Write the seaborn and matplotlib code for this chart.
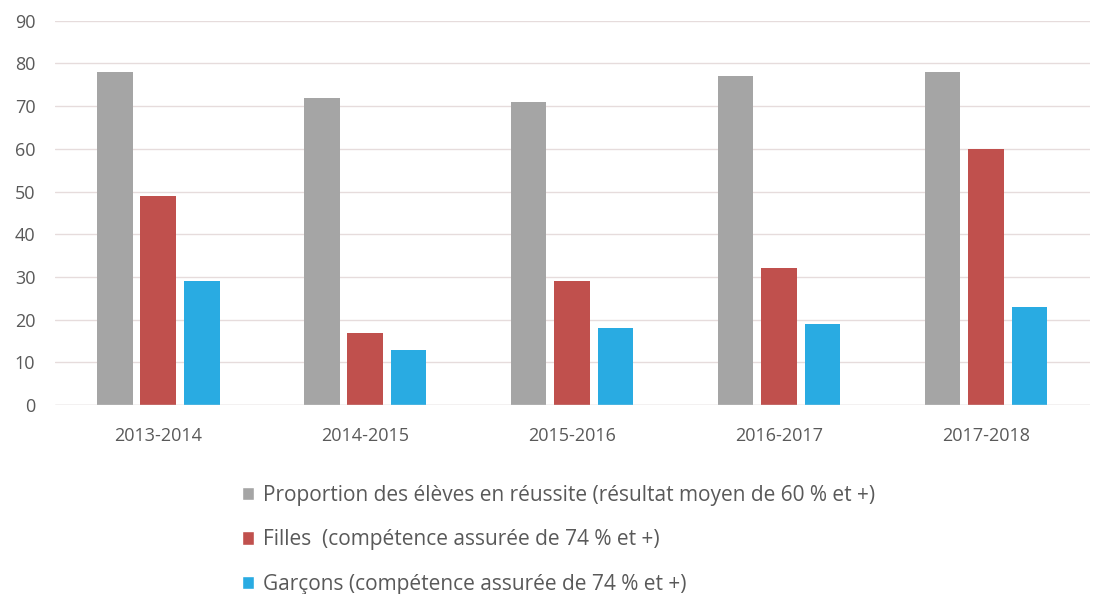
import pandas as pd
import matplotlib.pyplot as plt
import seaborn as sns
from matplotlib.patches import Patch

# Données
annees = ["2013-2014", "2014-2015", "2015-2016", "2016-2017", "2017-2018"]
reussite = [78, 72, 71, 77, 78]
filles = [49, 17, 29, 32, 60]
garcons = [29, 13, 18, 19, 23]

series = [
    "Proportion des élèves en réussite (résultat moyen de 60 % et +)",
    "Filles  (compétence assurée de 74 % et +)",
    "Garçons (compétence assurée de 74 % et +)",
]
couleurs = ["#a5a5a5", "#c0504d", "#29abe2"]

df = pd.DataFrame({
    "annee": annees * 3,
    "valeur": reussite + filles + garcons,
    "serie": [series[0]] * 5 + [series[1]] * 5 + [series[2]] * 5,
})

sns.set_theme(style="white")
plt.rcParams["font.family"] = ["Open Sans", "DejaVu Sans"]

fig = plt.figure(figsize=(10.95, 5.94), dpi=100)
ax = fig.add_axes([0.050, 0.318, 0.945, 0.647])

sns.barplot(data=df, x="annee", y="valeur", hue="serie", palette=couleurs,
            saturation=1, width=0.63, gap=0.18, linewidth=0,
            legend=False, ax=ax, zorder=3)

ax.set_ylim(0, 90)
ax.set_yticks(range(0, 91, 10))
ax.set_xlim(-0.5, 4.5)
ax.grid(axis="y", color="#e6dcdc", linewidth=1, zorder=0)
for s in ax.spines.values():
    s.set_visible(False)
ax.axhline(0, color="#d9d9d9", linewidth=1, zorder=4)
ax.set_xlabel("")
ax.set_ylabel("")
ax.tick_params(axis="x", length=0, labelsize=13, colors="#595959", pad=16)
ax.tick_params(axis="y", length=0, labelsize=13, colors="#595959", pad=14)

handles = [Patch(facecolor=c) for c in couleurs]
fig.legend(handles, series, loc="upper left", bbox_to_anchor=(0.213, 0.198),
           frameon=False, fontsize=15, labelcolor="#595959",
           handlelength=0.6, handleheight=0.6, handletextpad=0.45,
           labelspacing=1.13, borderaxespad=0)

fig.savefig("out.png", dpi=100)
